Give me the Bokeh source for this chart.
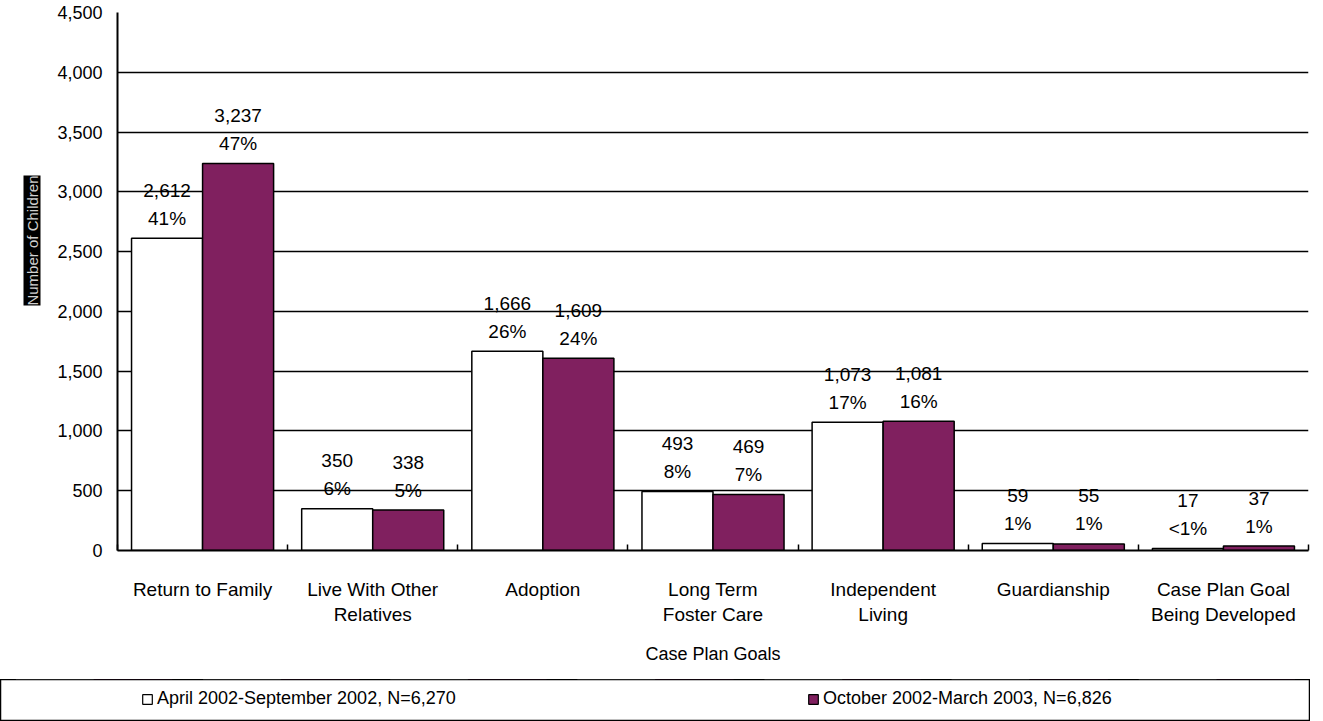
import math
from bokeh.plotting import figure
from bokeh.models import (ColumnDataSource, Range1d, FixedTicker, NumeralTickFormatter,
                          Legend, LegendItem, Title)
from bokeh.core.properties import value
from bokeh.layouts import column
from bokeh.embed import file_html
from bokeh.resources import INLINE

# ---- data ----
categories = ["Return to Family", "Live With Other\nRelatives", "Adoption",
              "Long Term\nFoster Care", "Independent\nLiving", "Guardianship",
              "Case Plan Goal\nBeing Developed"]
counts_2002 = [2612, 350, 1666, 493, 1073, 59, 17]
counts_2003 = [3237, 338, 1609, 469, 1081, 55, 37]
pct_2002 = ["41%", "6%", "26%", "8%", "17%", "1%", "<1%"]
pct_2003 = ["47%", "5%", "24%", "7%", "16%", "1%", "1%"]
y_ticks = [0, 500, 1000, 1500, 2000, 2500, 3000, 3500, 4000, 4500]
series_names = ["April 2002-September 2002, N=6,270", "October 2002-March 2003, N=6,826"]
x_title = "Case Plan Goals"
y_title = "Number of Children"

FONT = "Liberation Sans"
PURPLE = "#80205f"
BAR_W = 0.4175
OFF = BAR_W / 2
W, H = 1323, 679
FL, FR, FT, FB = 117, 1308, 12, 550   # frame edges in page pixels

idx = list(range(len(categories)))
src1 = ColumnDataSource(dict(x=[i - OFF for i in idx], top=counts_2002,
                             val=[f"{v:,}" for v in counts_2002], pct=pct_2002))
src2 = ColumnDataSource(dict(x=[i + OFF for i in idx], top=counts_2003,
                             val=[f"{v:,}" for v in counts_2003], pct=pct_2003))

p = figure(width=W, height=H, output_backend="svg", toolbar_location=None,
           x_range=Range1d(-0.5, len(categories) - 0.5), y_range=Range1d(0, 4500),
           min_border_left=FL, min_border_right=W - FR, min_border_top=FT,
           min_border_bottom=H - FB)
p.outline_line_color = None
p.background_fill_color = "white"
p.border_fill_color = "white"

p.vbar(x="x", top="top", bottom=0, width=BAR_W, source=src1,
       fill_color="white", line_color="black", line_width=1.5)
p.vbar(x="x", top="top", bottom=0, width=BAR_W, source=src2,
       fill_color=PURPLE, line_color="black", line_width=1.5)

for s in (src1, src2):
    p.text(x="x", y="top", text="val", source=s, y_offset=-48,
           text_align="center", text_baseline="middle",
           text_font=value(FONT), text_font_size="19px", text_color="black")
    p.text(x="x", y="top", text="pct", source=s, y_offset=-20,
           text_align="center", text_baseline="middle",
           text_font=value(FONT), text_font_size="19px", text_color="black")

# y axis
yax = p.yaxis[0]
yax.ticker = FixedTicker(ticks=y_ticks)
yax.formatter = NumeralTickFormatter(format="0,0")
yax.major_tick_out = 0
yax.major_tick_in = 0
yax.minor_tick_out = 0
yax.minor_tick_in = 0
yax.major_label_standoff = 15
yax.major_label_text_font = FONT
yax.major_label_text_font_size = "18px"
yax.major_label_text_color = "black"
yax.axis_line_color = "black"
yax.axis_line_width = 2

# y title: vertical text on a black box, in the left side panel
ytitle = Title(text=y_title, align="right", offset=163, standoff=28,
               text_font=FONT, text_font_size="15px", text_font_style="normal",
               text_color="#d0d0d0", background_fill_color="black")
p.add_layout(ytitle, "left")

p.ygrid.grid_line_color = "black"
p.ygrid.grid_line_width = 1.5
p.xgrid.grid_line_color = None

# x axis
xax = p.xaxis[0]
xax.ticker = FixedTicker(ticks=idx, minor_ticks=[i - 0.5 for i in range(len(categories) + 1)])
xax.major_label_overrides = {i: c for i, c in zip(idx, categories)}
xax.major_tick_in = 0
xax.major_tick_out = 0
xax.minor_tick_in = 6
xax.minor_tick_out = 0
xax.minor_tick_line_color = "black"
xax.minor_tick_line_width = 1.5
xax.axis_line_color = "black"
xax.axis_line_width = 2
xax.major_label_standoff = 28
xax.major_label_text_font = FONT
xax.major_label_text_font_size = "19px"
xax.major_label_text_color = "black"
xax.axis_label = x_title
xax.axis_label_text_font = FONT
xax.axis_label_text_font_size = "18px"
xax.axis_label_text_font_style = "normal"
xax.axis_label_text_color = "black"
xax.axis_label_standoff = 16

# legend panel: separate full-width framed strip
p2 = figure(width=1310, height=42, output_backend="svg", toolbar_location=None,
            x_range=Range1d(-0.5, len(categories) - 0.5), y_range=Range1d(-2, -1),
            min_border=0, x_axis_location=None, y_axis_location=None)
if hasattr(p2, "frame_align"):
    p2.frame_align = False
p2.xgrid.visible = False
p2.ygrid.visible = False
p2.outline_line_color = "black"
p2.outline_line_width = 1.5
p2.border_fill_color = "white"
l1 = p2.vbar(x="x", top="top", bottom=0, width=BAR_W, source=src1,
             fill_color="white", line_color="black", line_width=1.2)
l2 = p2.vbar(x="x", top="top", bottom=0, width=BAR_W, source=src2,
             fill_color=PURPLE, line_color="black", line_width=1.2)
legend = Legend(items=[LegendItem(label=series_names[0], renderers=[l1]),
                       LegendItem(label=series_names[1], renderers=[l2])],
                orientation="horizontal", location=(141, 12), padding=0, margin=0,
                spacing=10, label_width=640, label_height=20, glyph_width=12, glyph_height=12,
                label_standoff=4, border_line_color=None, background_fill_alpha=0,
                label_text_font=FONT, label_text_font_size="18px", label_text_color="black")
p2.add_layout(legend, "center")

layout = column(p, p2, spacing=0)
open("out.html", "w").write(file_html(layout, INLINE))
